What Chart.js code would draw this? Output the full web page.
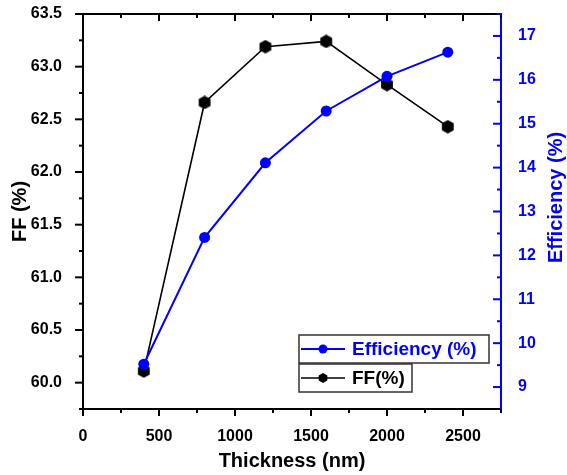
<!DOCTYPE html>
<html>
<head>
<meta charset="utf-8">
<script src="https://cdn.jsdelivr.net/npm/chart.js@4.4.0/dist/chart.umd.min.js"></script>
<style>
  html, body { margin: 0; padding: 0; background: #fff; }
</style>
</head>
<body>
<canvas id="chart" width="567" height="475"></canvas>
<script>
// data
const thickness = [400, 800, 1200, 1600, 2000, 2400];
const ffValues = [60.11, 62.66, 63.19, 63.24, 62.83, 62.43];
const efficiencyValues = [9.52, 12.41, 14.11, 15.29, 16.08, 16.63];

const xTicks = [0, 500, 1000, 1500, 2000, 2500];
const ffTicks = [60.0, 60.5, 61.0, 61.5, 62.0, 62.5, 63.0, 63.5];
const effTicks = [9, 10, 11, 12, 13, 14, 15, 16, 17];

const BLUE = '#0000ff';
const FONT = '"Liberation Sans", Arial, sans-serif';

// hexagon marker for the FF series
function hexPath(ctx, cx, cy, r) {
    ctx.beginPath();
    for (let k = 0; k < 6; k++) {
        const a = -Math.PI / 2 + k * Math.PI / 3;
        const px = cx + r * Math.cos(a), py = cy + r * Math.sin(a);
        if (k === 0) ctx.moveTo(px, py); else ctx.lineTo(px, py);
    }
    ctx.closePath();
}
const hexImg = document.createElement('canvas');
hexImg.width = 14; hexImg.height = 14;
(() => {
    const c = hexImg.getContext('2d');
    c.fillStyle = '#000';
    hexPath(c, 7, 7, 6.8);
    c.fill();
})();

// minor ticks, top axis, right title and the boxed legend
const extras = {
    id: 'extras',
    afterDraw(chart) {
        const ctx = chart.ctx;
        const { left, right, top, bottom } = chart.chartArea;
        const sx = chart.scales.x, sy = chart.scales.y, sy1 = chart.scales.y1;
        ctx.save();
        ctx.lineWidth = 2;

        // top axis line
        ctx.strokeStyle = '#000';
        ctx.beginPath(); ctx.moveTo(left - 1, top); ctx.lineTo(right, top); ctx.stroke();

        // x ticks: bottom outward, top inward
        for (let v = 0; v <= 2750; v += 250) {
            const px = sx.getPixelForValue(v);
            const major = xTicks.includes(v);
            const len = major ? 7 : 4;
            ctx.beginPath(); ctx.moveTo(px, bottom); ctx.lineTo(px, bottom + len); ctx.stroke();
            if (v > 0) { ctx.beginPath(); ctx.moveTo(px, top); ctx.lineTo(px, top + len); ctx.stroke(); }
        }
        // left ticks outward
        for (let v = 59.75; v <= 63.5001; v += 0.25) {
            const py = sy.getPixelForValue(v);
            const major = Math.abs(v * 2 - Math.round(v * 2)) < 1e-6;
            ctx.beginPath(); ctx.moveTo(left, py); ctx.lineTo(left - (major ? 8 : 4), py); ctx.stroke();
        }
        // right ticks inward, blue
        ctx.strokeStyle = BLUE;
        for (let v = 9; v <= 17.5001; v += 0.5) {
            const py = sy1.getPixelForValue(v);
            const major = Number.isInteger(v);
            ctx.beginPath(); ctx.moveTo(right, py); ctx.lineTo(right - (major ? 8 : 4), py); ctx.stroke();
        }

        // right axis title (reads bottom to top)
        ctx.save();
        ctx.translate(556, (top + bottom) / 2 - 14);
        ctx.rotate(-Math.PI / 2);
        ctx.fillStyle = BLUE;
        ctx.font = 'bold 20px ' + FONT;
        ctx.textAlign = 'center';
        ctx.textBaseline = 'middle';
        ctx.fillText('Efficiency (%)', 0, 0);
        ctx.restore();

        // legend
        const entries = [
            { label: 'Efficiency (%)', color: BLUE, x: 299, y: 335, w: 190, hex: false },
            { label: 'FF(%)', color: '#000', x: 299, y: 364, w: 113, hex: true }
        ];
        entries.forEach(e => {
            const h = 28, cy = e.y + h / 2;
            ctx.fillStyle = '#fff';
            ctx.fillRect(e.x, e.y, e.w, h);
            ctx.strokeStyle = '#333';
            ctx.lineWidth = 1.5;
            ctx.strokeRect(e.x, e.y, e.w, h);
            ctx.strokeStyle = e.color;
            ctx.lineWidth = e.hex ? 1.6 : 2;
            ctx.beginPath(); ctx.moveTo(e.x + 2, cy); ctx.lineTo(e.x + 46, cy); ctx.stroke();
            ctx.fillStyle = e.color;
            if (e.hex) { hexPath(ctx, e.x + 24, cy, 5); ctx.fill(); }
            else { ctx.beginPath(); ctx.arc(e.x + 24, cy, 4.5, 0, Math.PI * 2); ctx.fill(); }
            ctx.font = 'bold 19px ' + FONT;
            ctx.textAlign = 'left';
            ctx.textBaseline = 'middle';
            ctx.fillText(e.label, e.x + 53, cy + 1);
        });
        ctx.restore();
    }
};

const noPad = s => { s.paddingTop = 0; s.paddingBottom = 0; s.paddingLeft = 0; s.paddingRight = 0; };

const ctx = document.getElementById('chart').getContext('2d');
new Chart(ctx, {
    type: 'line',
    data: {
        datasets: [{
            label: 'Efficiency (%)',
            data: thickness.map((t, i) => ({ x: t, y: efficiencyValues[i] })),
            yAxisID: 'y1',
            borderColor: BLUE,
            backgroundColor: BLUE,
            borderWidth: 2,
            pointRadius: 5.5,
            pointHoverRadius: 5.5,
            pointBorderWidth: 0,
            tension: 0
        }, {
            label: 'FF(%)',
            data: thickness.map((t, i) => ({ x: t, y: ffValues[i] })),
            yAxisID: 'y',
            borderColor: '#000',
            backgroundColor: '#000',
            borderWidth: 1.6,
            pointStyle: hexImg,
            pointRadius: 6,
            tension: 0
        }]
    },
    options: {
        responsive: false,
        animation: false,
        events: [],
        layout: { padding: { top: 14, left: 0, right: 0, bottom: 0 } },
        plugins: { legend: { display: false }, tooltip: { enabled: false } },
        scales: {
            x: {
                type: 'linear',
                position: 'bottom',
                min: 0,
                max: 2750,
                afterBuildTicks: s => { s.ticks = xTicks.map(v => ({ value: v })); },
                afterFit: s => { s.height = 66; noPad(s); },
                grid: { display: false },
                border: { display: true, color: '#000', width: 2 },
                ticks: { color: '#000', padding: 10, maxRotation: 0, callback: v => String(v), font: { family: FONT, size: 16, weight: 'bold' } },
                title: { display: true, text: 'Thickness (nm)', color: '#000', padding: { top: 0, bottom: 2 }, font: { family: FONT, size: 20, weight: 'bold' } }
            },
            y: {
                type: 'linear',
                position: 'left',
                min: 59.75,
                max: 63.5,
                afterBuildTicks: s => { s.ticks = ffTicks.map(v => ({ value: v })); },
                afterFit: s => { s.width = 83; noPad(s); },
                grid: { display: false },
                border: { display: true, color: '#000', width: 2 },
                ticks: { color: '#000', padding: 13, callback: v => v.toFixed(1), font: { family: FONT, size: 16, weight: 'bold' } },
                title: { display: true, text: 'FF (%)', color: '#000', padding: { top: 8, bottom: 0 }, font: { family: FONT, size: 20, weight: 'bold' } }
            },
            y1: {
                type: 'linear',
                position: 'right',
                min: 8.5,
                max: 17.5,
                afterBuildTicks: s => { s.ticks = effTicks.map(v => ({ value: v })); },
                afterFit: s => { s.width = 66; noPad(s); },
                grid: { display: false },
                border: { display: true, color: BLUE, width: 2 },
                ticks: { color: BLUE, padding: 9, font: { family: FONT, size: 16, weight: 'bold' } },
                title: { display: false }
            }
        }
    },
    plugins: [extras]
});
</script>
</body>
</html>
